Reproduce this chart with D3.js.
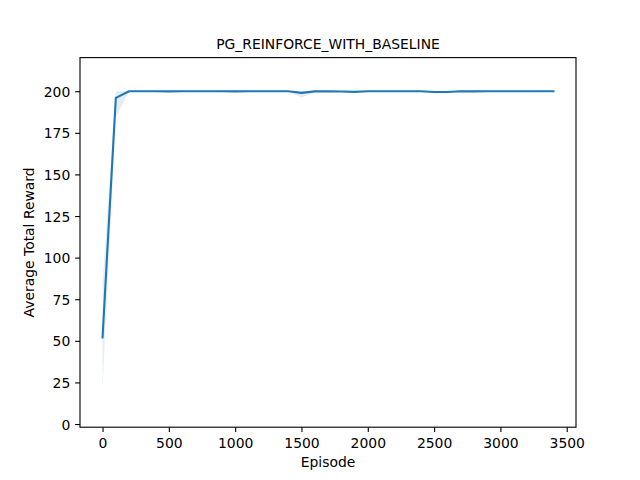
<!DOCTYPE html>
<html>
<head>
<meta charset="utf-8">
<style>
  body { margin: 0; background: #fff; }
  svg { display: block; font-family: "DejaVu Sans", sans-serif; }
</style>
</head>
<body>
<svg></svg>
<script src="https://cdn.jsdelivr.net/npm/d3@7/dist/d3.min.js"></script>
<script>

var episodes = [0, 100, 200, 300, 400, 500, 600, 700, 800, 900,
    1000, 1100, 1200, 1300, 1400, 1500, 1600, 1700, 1800, 1900,
    2000, 2100, 2200, 2300, 2400, 2500, 2600, 2700, 2800, 2900,
    3000, 3100, 3200, 3300, 3400];

var meanReward = [52, 196, 200, 200, 200, 199.9, 200, 200, 200, 200,
    199.9, 200, 200, 200, 200, 199.0, 199.9, 200, 199.8, 199.6,
    200, 200, 200, 200, 200, 199.5, 199.5, 200, 199.9, 200,
    200, 200, 200, 200, 200];

var lowerReward = [22, 184, 200, 200, 200, 199.6, 200, 200, 199.9, 199.8,
    199.6, 200, 200, 200, 200, 196, 199.6, 200, 199.4, 198.9,
    200, 200, 200, 200, 199.9, 198.8, 198.8, 199.8, 199.7, 200,
    200, 200, 200, 200, 200];

var upperReward = [85, 200, 200, 200, 200, 200, 200, 200, 200, 200,
    200, 200, 200, 200, 200, 200, 200, 200, 200, 200,
    200, 200, 200, 200, 200, 200, 200, 200, 200, 200,
    200, 200, 200, 200, 200];

var xTicks = [0, 500, 1000, 1500, 2000, 2500, 3000, 3500];
var yTicks = [0, 25, 50, 75, 100, 125, 150, 175, 200];

var width = 640,
    height = 480,
    plotLeft = 80,
    plotRight = 576,
    plotTop = 57.6,
    plotBottom = 427.2,
    blue = "#1f77b4",
    fontSize = 13.9,
    tickLen = 4.86;

var svg = d3.select("svg")
    .attr("width", width)
    .attr("height", height);

var rows = episodes.map(function(e, i) {
  return {x: e, y: meanReward[i], lo: lowerReward[i], hi: upperReward[i]};
});

var x = d3.scaleLinear().domain([-170, 3570]).range([plotLeft, plotRight]);
var y = d3.scaleLinear().domain([-1.9, 220.2]).range([plotBottom, plotTop]);

// confidence band
svg.append("path")
    .datum(rows)
    .attr("fill", blue)
    .attr("fill-opacity", 0.12)
    .attr("d", d3.area()
      .x(function(d) { return x(d.x); })
      .y0(function(d) { return y(d.lo); })
      .y1(function(d) { return y(d.hi); }));

svg.append("path")
    .datum(rows)
    .attr("fill", "none")
    .attr("stroke", blue)
    .attr("stroke-width", 2.08)
    .attr("stroke-linejoin", "round")
    .attr("stroke-linecap", "square")
    .attr("d", d3.line()
      .x(function(d) { return x(d.x); })
      .y(function(d) { return y(d.y); }));

var xAxis = svg.append("g")
    .attr("transform", "translate(0," + plotBottom + ")")
    .call(d3.axisBottom(x).tickValues(xTicks).tickFormat(d3.format("d"))
      .tickSizeInner(tickLen).tickSizeOuter(0).tickPadding(4.86));

var yAxis = svg.append("g")
    .attr("transform", "translate(" + plotLeft + ",0)")
    .call(d3.axisLeft(y).tickValues(yTicks).tickFormat(d3.format("d"))
      .tickSizeInner(tickLen).tickSizeOuter(0).tickPadding(4.86));

[xAxis, yAxis].forEach(function(g) {
  g.select(".domain").remove();
  g.selectAll("line").attr("stroke", "#000").attr("stroke-width", 1.11);
  g.selectAll("text")
    .attr("fill", "#000")
    .style("font-family", "DejaVu Sans")
    .style("font-size", fontSize + "px");
});
xAxis.selectAll("text").attr("dy", "0.78em");
yAxis.selectAll("text").attr("dy", "0.36em");

svg.append("rect")
    .attr("x", plotLeft)
    .attr("y", plotTop)
    .attr("width", plotRight - plotLeft)
    .attr("height", plotBottom - plotTop)
    .attr("fill", "none")
    .attr("stroke", "#000")
    .attr("stroke-width", 1.11);

svg.append("text")
    .attr("x", (plotLeft + plotRight) / 2)
    .attr("y", plotTop - 8.3)
    .attr("text-anchor", "middle")
    .style("font-size", fontSize + "px")
    .text("PG_REINFORCE_WITH_BASELINE");

svg.append("text")
    .attr("x", (plotLeft + plotRight) / 2)
    .attr("y", 467)
    .attr("text-anchor", "middle")
    .style("font-size", fontSize + "px")
    .text("Episode");

svg.append("text")
    .attr("transform", "translate(34," + ((plotTop + plotBottom) / 2) + ") rotate(-90)")
    .attr("text-anchor", "middle")
    .style("font-size", fontSize + "px")
    .text("Average Total Reward");
</script>
</body>
</html>
